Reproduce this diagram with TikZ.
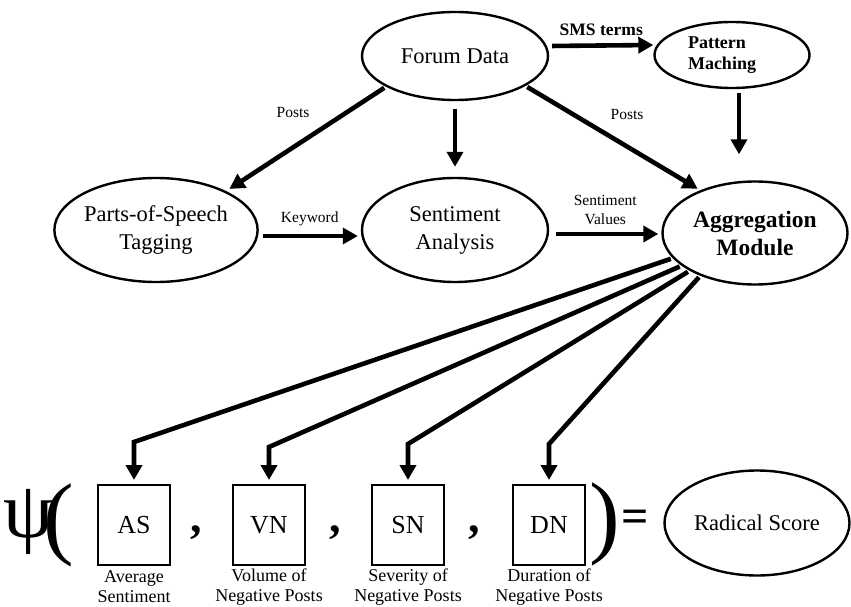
\documentclass[tikz,border=0pt]{standalone}
\usepackage{fontspec}
\setmainfont{Liberation Serif}
\usetikzlibrary{arrows.meta,shapes.geometric}
\begin{document}
\begin{tikzpicture}[x=1pt,y=-1pt,
 ell/.style={draw,ellipse,line width=2.4pt,inner sep=0pt,align=center},
 arr/.style={line width=4.6pt,-{Triangle[length=15pt,width=16pt]}},
 box/.style={draw,line width=2pt,minimum width=72pt,minimum height=80pt,inner sep=0pt,font=\fontsize{26}{26}\selectfont},
 small/.style={font=\fontsize{15.5}{19}\selectfont,align=center},
 captext/.style={font=\fontsize{18}{20}\selectfont,align=center},
 big/.style={font=\fontsize{#1}{#1}\selectfont,inner sep=0pt}
]
\useasboundingbox (0,0) rectangle (851,607);
% top nodes
\node[ell,minimum width=186pt,minimum height=88pt,font=\fontsize{22.5}{26}\selectfont] (fd) at (455,56) {Forum Data};
\node[ell,minimum width=155pt,minimum height=66pt,label={[xshift=-10pt,align=left,font=\bfseries\fontsize{18}{21}\selectfont]center:Pattern\\Maching}] (pm) at (732,55) {};
\node[ell,minimum width=188pt,minimum height=104pt,font=\fontsize{22.5}{28}\selectfont] (pos) at (156,230) {Parts-of-Speech\\Tagging};
\node[ell,minimum width=186pt,minimum height=104pt,font=\fontsize{22.5}{28}\selectfont] (sa) at (455,230) {Sentiment\\Analysis};
\node[ell,minimum width=185pt,minimum height=103pt,font=\bfseries\fontsize{23.5}{28}\selectfont] (am) at (755,233) {Aggregation\\Module};
% top connectors
\draw[arr,shorten <=3pt] ([yshift=10pt]fd.east) -- ([yshift=10pt]pm.west) node[midway,above=4pt,font=\bfseries\fontsize{17.5}{20}\selectfont] (smsl) {SMS terms};
\draw[arr,shorten <=2pt,shorten >=4pt] (fd.204) -- (pos.29);
\node[small] (p1) at (293,113) {Posts};
\draw[arr,shorten <=8pt,shorten >=10pt] (fd.south) -- (sa.north);
\draw[arr,shorten <=2pt,shorten >=3pt] (fd.337) -- (am.142);
\node[small] (p2) at (627,115) {Posts};
\draw[arr,shorten <=4pt,shorten >=26pt] ([xshift=7pt]pm.south) -- ([xshift=7pt]pm.south |- am.north);
\draw[arr,shorten <=4pt,shorten >=3pt] ([yshift=-6pt]pos.east) -- ([yshift=-6pt]sa.west) node[midway,above=5pt,small] (kw) {Keyword};
\draw[arr,shorten <=7pt,shorten >=3pt] ([yshift=-4pt]sa.east) -- ([yshift=-1pt]am.west) node[midway,above=4pt,small] (sv) {Sentiment\\Values};
% bottom
\node[big=80] (psi) at (29,522) {ψ};
\node[big=92] (lp) at (59,525) {(};
\node[box] (as) at (134,525) {AS};
\node[big=46,font=\bfseries\fontsize{46}{46}\selectfont] (c1) at (196,533) {,};
\node[box] (vn) at (269,525) {VN};
\node[big=46,font=\bfseries\fontsize{46}{46}\selectfont] (c2) at (335,533) {,};
\node[box] (sn) at (408,525) {SN};
\node[big=46,font=\bfseries\fontsize{46}{46}\selectfont] (c3) at (474,533) {,};
\node[box] (dn) at (549,525) {DN};
\node[big=92] (rp) at (605,524) {)};
\node[big=48,font=\bfseries\fontsize{48}{48}\selectfont] (eq) at (635,521) {=};
\node[ell,minimum width=185pt,minimum height=105pt,font=\fontsize{22.5}{26}\selectfont] (rs) at (757,523) {Radical Score};
\node[captext] (l1) at (134,587) {Average\\Sentiment};
\node[captext] (l2) at (269,587) {Volume of\\Negative Posts};
\node[captext] (l3) at (408,587) {Severity of\\Negative Posts};
\node[captext] (l4) at (549,587) {Duration of\\Negative Posts};
% fan connectors
\draw[arr,shorten <=2pt,shorten >=4pt] (am.197) -- ([yshift=42pt]as.north) -- (as.north);
\draw[arr,shorten <=2pt,shorten >=4pt] (am.204) -- ([yshift=37pt]vn.north) -- (vn.north);
\draw[arr,shorten <=2pt,shorten >=4pt] (am.210) -- ([yshift=40pt]sn.north) -- (sn.north);
\draw[arr,shorten <=2pt,shorten >=4pt] (am.218) -- ([yshift=40pt]dn.north) -- (dn.north);
\end{tikzpicture}
\end{document}
